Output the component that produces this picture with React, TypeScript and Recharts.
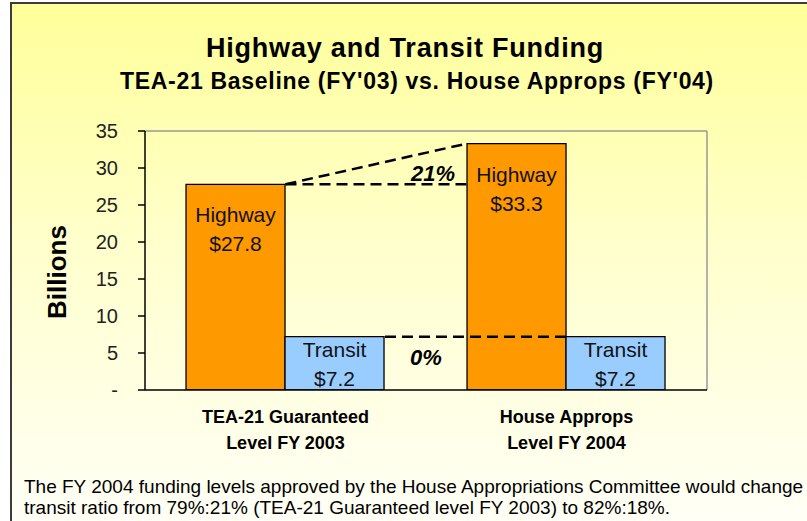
import React from 'react';
import {
  BarChart,
  Bar,
  XAxis,
  YAxis,
  LabelList,
  ReferenceLine,
  ReferenceDot,
} from 'recharts';

const CATEGORIES = ['TEA-21 Guaranteed\nLevel FY 2003', 'House Approps\nLevel FY 2004'];
const HIGHWAY = [27.8, 33.3];
const TRANSIT = [7.2, 7.2];
const Y_TICKS = [0, 5, 10, 15, 20, 25, 30, 35];
const CHANGE_LABELS = ['21%', '0%'];

const FONT = "'Liberation Sans', Arial, sans-serif";
const GAP = 0.146; // barCategoryGap as a share of one category
const BAR = (1 - 2 * GAP) / 2;

const data = CATEGORIES.map((name, i) => ({
  name,
  highway: HIGHWAY[i],
  transit: TRANSIT[i],
}));

const CategoryTick = (props: any) => {
  const lines = String(props.payload.value).split('\n');
  return (
    <text
      x={props.x}
      y={props.y}
      textAnchor="middle"
      fontFamily={FONT}
      fontWeight="bold"
      fontSize={18}
      fill="#000"
    >
      {lines.map((l, i) => (
        <tspan key={i} x={props.x} dy={i === 0 ? 33 : 26}>
          {l}
        </tspan>
      ))}
    </text>
  );
};

const barLabel = (name: string, first: number, second: number) => (props: any) => {
  const cx = Number(props.x) + Number(props.width) / 2;
  const top = Number(props.y);
  return (
    <text textAnchor="middle" fontFamily={FONT} fontSize={21} fill="#111">
      <tspan x={cx} y={top + first}>{name}</tspan>
      <tspan x={cx} y={top + second}>${Number(props.value).toFixed(1)}</tspan>
    </text>
  );
};

const changeLabel = (text: string) => (props: any) => {
  const vb = props.viewBox || {};
  const cx = vb.x + (vb.width || 0) / 2;
  const cy = vb.y + (vb.height || 0) / 2;
  return (
    <text
      x={cx}
      y={cy}
      dy="0.36em"
      textAnchor="middle"
      fontFamily={FONT}
      fontWeight="bold"
      fontStyle="italic"
      fontSize={22}
      fill="#000"
    >
      {text}
    </text>
  );
};

const dash = { stroke: '#000', strokeWidth: 2.5, strokeDasharray: '11 6' };
const chartMargin = { top: 131, right: 100, bottom: 0, left: 0 };

export default function App() {
  return (
    <div
      style={{
        position: 'absolute',
        left: 0,
        top: 0,
        width: 807,
        height: 521,
        overflow: 'hidden',
        background: '#fff',
      }}
    >
      <div
        style={{
          position: 'absolute',
          left: 10,
          top: 2,
          width: 820,
          height: 540,
          border: '2px solid #3c3c3c',
          background: 'linear-gradient(#ffff99 0%, #ffffcc 45%, #fffffa 100%)',
        }}
      />
      {/* main chart: axes and bars */}
      <div style={{ position: 'absolute', left: 0, top: 0 }}>
        <BarChart
          width={807}
          height={521}
          data={data}
          margin={chartMargin}
          barCategoryGap={`${GAP * 100}%`}
          barGap={0}
        >
          <XAxis
            xAxisId="t"
            type="number"
            dataKey="pos"
            domain={[0, 2]}
            ticks={[0, 1, 2]}
            allowDataOverflow
            height={1}
            axisLine={false}
            tick={false}
            tickSize={6}
            tickLine={{ stroke: '#000', strokeWidth: 1.5 }}
          />
          <XAxis
            xAxisId="c"
            dataKey="name"
            height={130}
            interval={0}
            tickLine={false}
            tickSize={0}
            tickMargin={0}
            axisLine={{ stroke: '#000', strokeWidth: 1.5 }}
            tick={<CategoryTick />}
          />
          <YAxis
            width={145}
            domain={[0, 35]}
            ticks={Y_TICKS}
            allowDataOverflow
            tickSize={7}
            tickMargin={20}
            axisLine={{ stroke: '#000', strokeWidth: 1.5 }}
            tickLine={{ stroke: '#000', strokeWidth: 1.5 }}
            tickFormatter={(v: number) => (v === 0 ? '-' : String(v))}
            tick={{ fontFamily: FONT, fontSize: 20, fill: '#222' }}
            label={{
              value: 'Billions',
              content: () => (
                <text
                  x={57}
                  y={272}
                  transform="rotate(-90 57 272)"
                  textAnchor="middle"
                  dy="0.36em"
                  fontFamily={FONT}
                  fontWeight="bold"
                  fontSize={26}
                  fill="#000"
                >
                  Billions
                </text>
              ),
            }}
          />
          <ReferenceLine xAxisId="c" y={35} stroke="#999" strokeWidth={1.5} />
          <ReferenceLine xAxisId="t" x={2} stroke="#999" strokeWidth={1.5} />
          <Bar xAxisId="c" dataKey="highway" fill="#ff9900" stroke="#000" strokeWidth={1.3} isAnimationActive={false}>
            <LabelList dataKey="highway" content={barLabel('Highway', 38, 67)} />
          </Bar>
          <Bar xAxisId="c" dataKey="transit" fill="#99ccff" stroke="#000" strokeWidth={1.3} isAnimationActive={false}>
            <LabelList dataKey="transit" content={barLabel('Transit', 20, 49)} />
          </Bar>
        </BarChart>
      </div>
      {/* overlay chart with the same scales: dashed change lines drawn over the bars */}
      <div style={{ position: 'absolute', left: 0, top: 0, pointerEvents: 'none' }}>
        <BarChart width={807} height={521} data={data} margin={{ ...chartMargin, bottom: 130 }}>
          <XAxis
            xAxisId="t"
            type="number"
            dataKey="pos"
            domain={[0, 2]}
            allowDataOverflow
            height={1}
            axisLine={false}
            tickLine={false}
            tick={false}
          />
          <YAxis
            width={145}
            domain={[0, 35]}
            ticks={Y_TICKS}
            allowDataOverflow
            axisLine={false}
            tickLine={false}
            tick={false}
          />
          <ReferenceLine
            xAxisId="t"
            segment={[
              { x: 0.5, y: HIGHWAY[0] },
              { x: 1 + GAP, y: HIGHWAY[0] },
            ]}
            {...dash}
          />
          <ReferenceLine
            xAxisId="t"
            segment={[
              { x: 0.5, y: HIGHWAY[0] },
              { x: 1 + GAP, y: HIGHWAY[1] },
            ]}
            {...dash}
          />
          <ReferenceLine
            xAxisId="t"
            segment={[
              { x: 0.5 + BAR, y: TRANSIT[0] },
              { x: 1.5, y: TRANSIT[1] },
            ]}
            {...dash}
          />
          <ReferenceDot
            xAxisId="t"
            x={1.025}
            y={29.3}
            r={1}
            fill="none"
            stroke="none"
            label={{ content: changeLabel(CHANGE_LABELS[0]) }}
          />
          <ReferenceDot
            xAxisId="t"
            x={1.0}
            y={4.5}
            r={1}
            fill="none"
            stroke="none"
            label={{ content: changeLabel(CHANGE_LABELS[1]) }}
          />
        </BarChart>
      </div>
      <svg
        width={807}
        height={521}
        style={{ position: 'absolute', left: 0, top: 0, pointerEvents: 'none' }}
      >
        <text x={405} y={57} textAnchor="middle" fontFamily={FONT} fontWeight="bold" fontSize={27} letterSpacing={0.8} fill="#000">
          Highway and Transit Funding
        </text>
        <text x={417} y={89} textAnchor="middle" fontFamily={FONT} fontWeight="bold" fontSize={23} letterSpacing={0.7} fill="#000">
          TEA-21 Baseline (FY'03) vs. House Approps (FY'04)
        </text>
        <text x={24} y={493} fontFamily={FONT} fontSize={19} fill="#000">
          The FY 2004 funding levels approved by the House Appropriations Committee would change
        </text>
        <text x={24} y={514} fontFamily={FONT} fontSize={19} fill="#000">
          transit ratio from 79%:21% (TEA-21 Guaranteed level FY 2003) to 82%:18%.
        </text>
      </svg>
    </div>
  );
}
